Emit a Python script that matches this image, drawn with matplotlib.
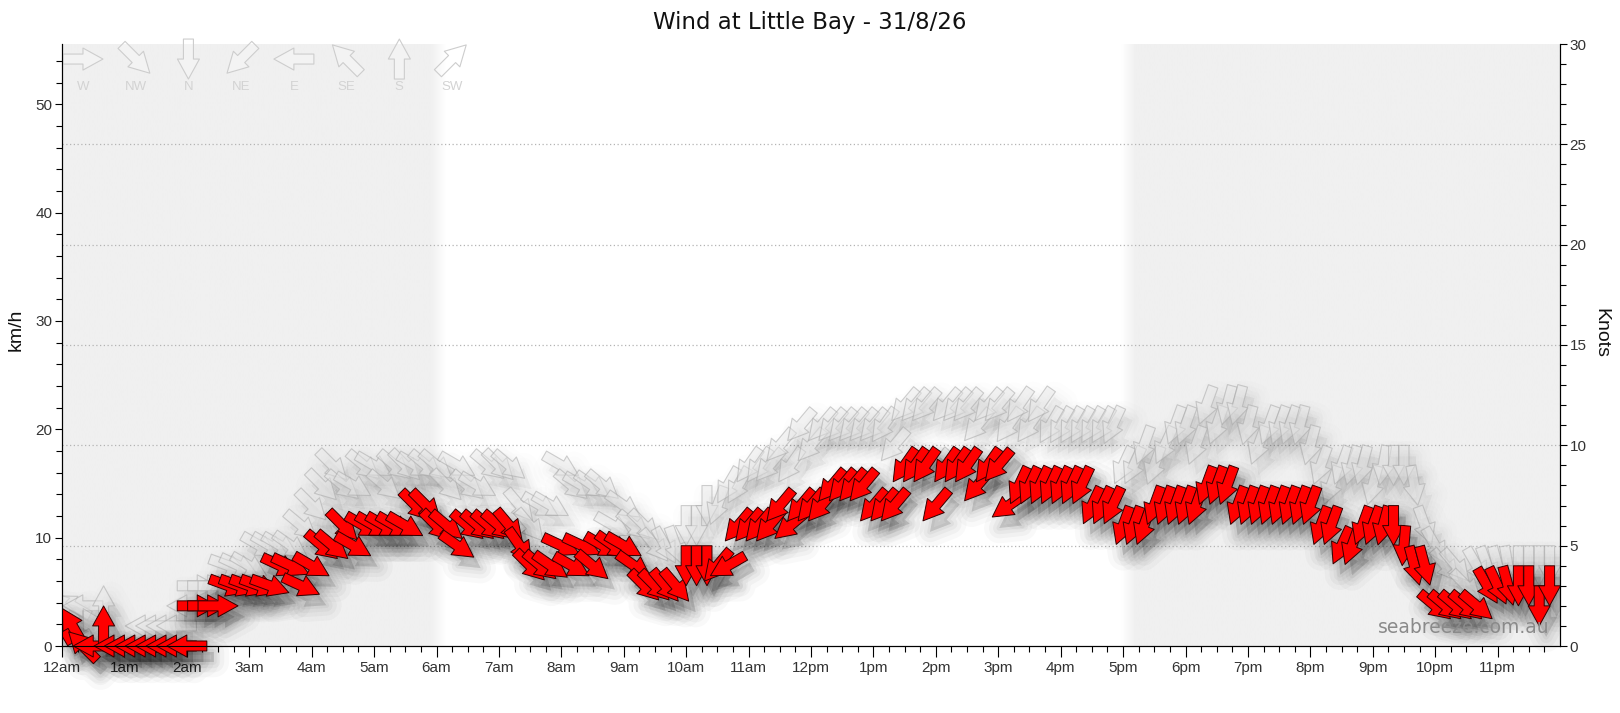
import numpy as np
import matplotlib
matplotlib.use("Agg")
import matplotlib.pyplot as plt
from matplotlib.collections import PolyCollection
from matplotlib.colors import LinearSegmentedColormap
from matplotlib.patches import Rectangle
from matplotlib.transforms import Affine2D, IdentityTransform

plt.rcParams["font.family"] = ["Liberation Sans", "DejaVu Sans"]

KMH_PER_KT = 1.852

title = "Wind at Little Bay - 31/8/26"
hour_labels = ["12am"] + [f"{h}am" for h in range(1, 12)] + ["12pm"] + [f"{h}pm" for h in range(1, 12)]
compass_names = ["W", "NW", "N", "NE", "E", "SE", "S", "SW"]
compass_dirs = [270, 315, 0, 45, 90, 135, 180, 225]

# night (hours)
sunrise = 6.0
sunset = 17.1

# 10 minute readings, one row per hour, speeds in knots, directions in degrees (from)
wind_kt = [
    1, 1, 0, 0, 1, 0,
    0, 0, 0, 0, 0, 0,
    0, 2, 2, 2, 3, 3,
    3, 3, 3, 4, 4, 3,
    4, 5, 5, 6, 5, 6,
    6, 6, 6, 6, 7, 7,
    6, 6, 5, 6, 6, 6,
    6, 6, 5, 4, 4, 4,
    5, 4, 5, 4, 5, 5,
    5, 4, 3, 3, 3, 3,
    4, 4, 4, 4, 4, 6,
    6, 6, 6, 7, 6, 7,
    7, 7, 8, 8, 8, 8,
    7, 7, 7, 9, 9, 9,
    7, 9, 9, 9, 8, 9,
    9, 7, 8, 8, 8, 8,
    8, 8, 8, 7, 7, 7,
    6, 6, 6, 7, 7, 7,
    7, 7, 8, 8, 8, 7,
    7, 7, 7, 7, 7, 7,
    7, 6, 6, 5, 5, 6,
    6, 6, 6, 5, 4, 4,
    2, 2, 2, 2, 2, 3,
    3, 3, 3, 3, 2, 3,
]
wind_dir = [
    150, 150, 135, 90, 180, 90,
    90, 90, 90, 90, 90, 90,
    90, 270, 270, 270, 290, 290,
    290, 290, 290, 295, 295, 295,
    300, 310, 310, 315, 300, 300,
    300, 300, 300, 300, 315, 315,
    315, 310, 305, 310, 310, 310,
    310, 320, 325, 315, 310, 305,
    295, 300, 295, 310, 300, 305,
    300, 305, 315, 315, 320, 320,
    0, 0, 0, 40, 60, 40,
    40, 40, 40, 40, 50, 40,
    40, 40, 40, 40, 40, 40,
    40, 40, 40, 35, 35, 35,
    40, 35, 35, 35, 40, 35,
    40, 55, 25, 25, 25, 25,
    25, 25, 25, 25, 25, 25,
    20, 20, 20, 20, 20, 20,
    20, 20, 20, 20, 20, 20,
    20, 20, 20, 20, 20, 20,
    20, 20, 20, 25, 20, 20,
    20, 15, 0, 5, 345, 345,
    310, 310, 310, 310, 310, 330,
    335, 345, 0, 0, 0, 0,
]
gust_kt = [
    2, 2, 2, 1, 2, 0,
    0, 0, 1, 1, 1, 1,
    2, 3, 3, 3, 4, 4,
    4, 5, 5, 5, 5, 6,
    7, 8, 9, 8, 8, 9,
    9, 8, 9, 9, 9, 9,
    9, 8, 9, 8, 8, 9,
    9, 9, 7, 6, 7, 7,
    9, 8, 8, 8, 8, 6,
    7, 6, 6, 5, 5, 5,
    6, 6, 7, 7, 8, 8,
    9, 9, 9, 10, 9, 11,
    10, 11, 11, 11, 11, 11,
    11, 11, 10, 12, 12, 12,
    9, 12, 12, 12, 11, 12,
    12, 11, 12, 11, 12, 11,
    11, 11, 11, 11, 11, 11,
    9, 9, 10, 9, 10, 11,
    11, 10, 12, 11, 12, 12,
    11, 10, 11, 11, 11, 11,
    10, 9, 8, 9, 9, 9,
    8, 9, 9, 9, 8, 6,
    5, 4, 4, 3, 4, 4,
    4, 4, 4, 4, 4, 4,
]
gust_dir = [
    135, 120, 90, 150, 180, 90,
    90, 90, 90, 90, 90, 90,
    90, 270, 270, 270, 290, 295,
    300, 300, 300, 300, 305, 310,
    315, 315, 315, 310, 300, 310,
    300, 310, 310, 315, 300, 310,
    310, 315, 300, 310, 300, 310,
    315, 310, 320, 320, 300, 300,
    300, 310, 300, 305, 310, 300,
    305, 310, 315, 320, 330, 340,
    0, 0, 0, 20, 30, 30,
    35, 35, 40, 40, 35, 40,
    40, 40, 40, 40, 40, 40,
    40, 35, 40, 40, 40, 40,
    40, 40, 40, 40, 40, 40,
    40, 35, 35, 35, 35, 30,
    30, 30, 30, 30, 30, 25,
    25, 25, 20, 20, 25, 20,
    20, 20, 20, 20, 15, 15,
    15, 20, 20, 20, 20, 15,
    15, 20, 20, 20, 15, 15,
    15, 10, 0, 0, 350, 340,
    330, 320, 320, 315, 330, 340,
    345, 350, 0, 0, 0, 0,
]

times = np.arange(len(wind_kt)) / 6.0


def arrow_verts(direction, length=40, shaft=10, head_w=22, head_l=20):
    # arrow in pixels, centred on the reading, pointing where the wind blows to
    half = length / 2
    base = np.array([
        [-half, -shaft / 2], [half - head_l, -shaft / 2], [half - head_l, -head_w / 2],
        [half, 0], [half - head_l, head_w / 2], [half - head_l, shaft / 2], [-half, shaft / 2],
    ])
    theta = np.deg2rad(90 - (direction + 180))
    c, s = np.cos(theta), np.sin(theta)
    return base @ np.array([[c, -s], [s, c]]).T


def draw_arrows(ax, x, y, dirs, face, edge, lw, shadow, zorder, clip):
    verts = [arrow_verts(d) for d in dirs]
    offsets = np.column_stack([x, y])
    # soft drop shadow, built up from a few widening layers
    for w, a in [(22, 0.024), (15, 0.03), (9, 0.036), (4, 0.04)]:
        sh = PolyCollection(verts, offsets=offsets, offset_transform=ax.transData,
                            transform=Affine2D().translate(7, -11),
                            facecolor=(0, 0, 0, a * shadow), edgecolor=(0, 0, 0, a * shadow),
                            linewidth=w, joinstyle="round", zorder=zorder)
        ax.add_collection(sh, autolim=False)
        sh.set_clip_path(clip)
    pc = PolyCollection(verts, offsets=offsets, offset_transform=ax.transData,
                        transform=IdentityTransform(), facecolor=face, edgecolor=edge,
                        linewidth=lw, zorder=zorder + 0.5)
    ax.add_collection(pc, autolim=False)
    pc.set_clip_path(clip)


fig = plt.figure(figsize=(16.2, 7.13), dpi=100)
ax = fig.add_axes([62 / 1620, 1 - 646 / 713, (1560 - 62) / 1620, (646 - 44) / 713])
ymax = 30 * KMH_PER_KT

# night shading
tt = np.linspace(0, 24, 2401)
shade = np.interp(tt, [0, sunrise - 0.1, sunrise + 0.15, sunset - 0.12, sunset + 0.1, 24],
                  [1, 1, 0, 0, 1, 1])
night_cmap = LinearSegmentedColormap.from_list("night", ["#ffffff", "#f0f0f0"])
ax.imshow(shade[np.newaxis, :], extent=[0, 24, 0, ymax], aspect="auto", cmap=night_cmap,
          vmin=0, vmax=1, interpolation="bilinear", zorder=0)

ax2 = ax.twinx()
ax.set_xlim(0, 24)
ax.set_ylim(0, ymax)
ax2.set_ylim(0, 30)
ax2.set_yticks(range(0, 31, 5))
ax2.set_yticks(range(0, 31), minor=True)

# dotted knot grid
for kt in ax2.get_yticks()[1:-1]:
    ax.axhline(kt * KMH_PER_KT, color="#b4b4b4", lw=0.9, ls=(0, (1, 2)), zorder=1)

# arrows are only cut at the left and right ends of the plot
clip = Rectangle((0, -0.2), 1, 1.4, transform=ax.transAxes)

gust_kmh = np.array(gust_kt) * KMH_PER_KT
wind_kmh = np.array(wind_kt) * KMH_PER_KT
draw_arrows(ax, times, gust_kmh, gust_dir, (0.91, 0.91, 0.91, 0.45), (0.66, 0.66, 0.66, 0.55),
            0.8, 0.3, 2, clip)
draw_arrows(ax, times, wind_kmh, wind_dir, "#ff0000", "#330000", 0.7, 1.0, 4, clip)

# compass key
key_verts = [arrow_verts(d) for d in compass_dirs]
key_x = 0.014 + 0.0352 * np.arange(len(compass_dirs))
key = PolyCollection(key_verts, offsets=np.column_stack([key_x, np.full(len(key_x), 0.975)]),
                     offset_transform=ax.transAxes, transform=IdentityTransform(),
                     facecolor=(1, 1, 1, 0.25), edgecolor="#cdcdcd", linewidth=0.8, zorder=6)
ax.add_collection(key, autolim=False)
key.set_clip_on(False)
for kx, name in zip(key_x, compass_names):
    ax.text(kx, 0.929, name, transform=ax.transAxes, ha="center", va="center",
            fontsize=9.5, color="#d3d3d3", zorder=6)

# axes styling
ax.set_xticks(range(24))
ax.set_xticklabels(hour_labels)
ax.set_xticks(np.arange(0, 24, 0.25), minor=True)
ax.set_yticks(range(0, 51, 10))
ax.set_yticks(range(0, 56, 2), minor=True)
for a in (ax, ax2):
    a.spines["top"].set_visible(False)
    a.tick_params(which="both", direction="out", colors="black", labelcolor="#333333",
                  labelsize=11, width=0.8)
ax.tick_params(axis="x", which="major", length=8, pad=3)
ax.tick_params(axis="x", which="minor", length=4)
ax.tick_params(axis="y", which="major", length=5, pad=2)
ax.tick_params(axis="y", which="minor", length=4)
ax2.tick_params(axis="y", which="major", length=5, pad=2)
ax2.tick_params(axis="y", which="minor", length=4)

ax.text(0.993, 0.015, "seabreeze.com.au", transform=ax.transAxes, ha="right", va="bottom",
        fontsize=13.5, color="#8a8a8a", family="DejaVu Sans", zorder=7)

fig.text(0.5, 1 - 23 / 713, title, ha="center", va="center", fontsize=16.5,
         family="DejaVu Sans", color="#111111")
fig.text(16 / 1620, 1 - 330 / 713, "km/h", rotation=90, ha="center", va="center",
         fontsize=14, color="#111111")
fig.text(1601 / 1620, 1 - 333 / 713, "Knots", rotation=-90, ha="center", va="center",
         fontsize=14, color="#111111")

fig.savefig("out.png", dpi=100)
